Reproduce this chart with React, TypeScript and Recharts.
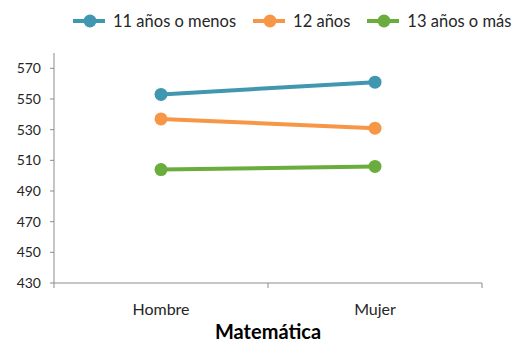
import { LineChart, Line, XAxis, YAxis, Label } from 'recharts';

const categories = ['Hombre', 'Mujer'];
const menos11 = [553, 561];
const doce = [537, 531];
const mas13 = [504, 506];
const yTicks = [430, 450, 470, 490, 510, 530, 550, 570];

const series = [
  { key: 'menos11', name: '11 años o menos', color: '#4197AF' },
  { key: 'doce', name: '12 años', color: '#F79646' },
  { key: 'mas13', name: '13 años o más', color: '#6AAD3D' },
];

const data = categories.map((cat, i) => ({
  cat,
  menos11: menos11[i],
  doce: doce[i],
  mas13: mas13[i],
}));

const FONT = 'Lato, "Liberation Sans", sans-serif';
const TEXT = '#262626';
const AXIS = '#8c8c8c';

// Excel style: label at band centre, tick marks on band edges
const CategoryTick = (props: any) => {
  const { x, y, payload, index } = props;
  const half = 107;
  return (
    <g>
      <line x1={x - half} y1={y - 8} x2={x - half} y2={y - 3} stroke={AXIS} />
      {index === categories.length - 1 && (
        <line x1={x + half} y1={y - 8} x2={x + half} y2={y - 3} stroke={AXIS} />
      )}
      <text x={x} y={y + 24} textAnchor="middle" fill={TEXT} fontSize={16} fontFamily={FONT}>
        {payload.value}
      </text>
    </g>
  );
};

const LegendRow = () => (
  <div
    style={{
      position: 'absolute',
      top: 10,
      left: 72,
      height: 22,
      display: 'flex',
      alignItems: 'center',
      fontFamily: FONT,
      fontSize: 16.5,
      color: TEXT,
      whiteSpace: 'nowrap',
    }}
  >
    {series.map((s) => (
      <div key={s.key} style={{ display: 'flex', alignItems: 'center', marginRight: 16 }}>
        <svg width={34} height={22} style={{ marginRight: 7 }}>
          <line x1={1} y1={11} x2={33} y2={11} stroke={s.color} strokeWidth={4} />
          <circle cx={18} cy={11} r={6.5} fill={s.color} />
        </svg>
        <span>{s.name}</span>
      </div>
    ))}
  </div>
);

export default function App() {
  return (
    <div style={{ position: 'absolute', top: 0, left: 0, width: 516, height: 343, background: '#fff' }}>
      <LegendRow />
      <LineChart
        width={516}
        height={343}
        data={data}
        margin={{ top: 53, right: 34, bottom: 0, left: 14 }}
      >
        <XAxis
          dataKey="cat"
          scale="band"
          height={60}
          axisLine={{ stroke: AXIS }}
          tickLine={false}
          tick={<CategoryTick />}
          interval={0}
        >
          <Label
            value="Matemática"
            position="insideBottom"
            offset={4}
            style={{ fontFamily: FONT, fontSize: 20, fontWeight: 700, fill: '#000' }}
          />
        </XAxis>
        <YAxis
          width={40}
          domain={[430, 580]}
          ticks={yTicks}
          allowDataOverflow
          axisLine={{ stroke: AXIS }}
          tickLine={{ stroke: AXIS }}
          tickSize={4}
          tickMargin={9}
          tick={{ fill: TEXT, fontSize: 14, fontFamily: FONT }}
        />
        {series.map((s) => (
          <Line
            key={s.key}
            dataKey={s.key}
            name={s.name}
            stroke={s.color}
            strokeWidth={4}
            dot={{ r: 6.5, fill: s.color, stroke: s.color, strokeWidth: 0 }}
            activeDot={false}
            isAnimationActive={false}
          />
        ))}
      </LineChart>
    </div>
  );
}
